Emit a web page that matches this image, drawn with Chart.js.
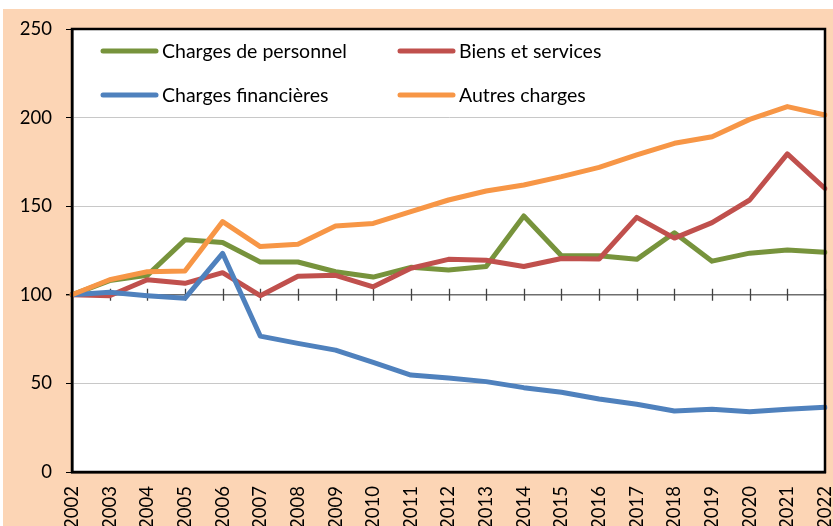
<!DOCTYPE html>
<html>
<head>
<meta charset="utf-8">
<script src="https://cdn.jsdelivr.net/npm/chart.js@4.4.1/dist/chart.umd.min.js"></script>
<style>
    html, body { margin: 0; padding: 0; background: #fff; overflow: hidden; }
    #wrap { position: absolute; left: 3px; top: 9px; width: 830px; height: 540px; background: #fcd5b5; }
</style>
</head>
<body>
<div id="wrap"><canvas id="chargesChart" width="830" height="540"></canvas></div>
<script>
// Données (indice base 100 en 2002)
const years = ['2002', '2003', '2004', '2005', '2006', '2007', '2008', '2009', '2010', '2011', '2012',
    '2013', '2014', '2015', '2016', '2017', '2018', '2019', '2020', '2021', '2022'];

const chargesPersonnel = [100, 108, 111, 131, 129.5, 118.5, 118.5, 113, 110, 115.5, 114, 116, 144.5,
    122, 122, 120, 135, 119, 123.5, 125.3, 124];
const biensServices = [100, 99.5, 108.5, 106.5, 112.5, 99.5, 110.5, 111, 104.5, 115, 120, 119.5, 116,
    120.5, 120.2, 143.7, 132, 140.7, 153.5, 179.5, 160];
const chargesFinancieres = [100, 101.4, 99.5, 98, 123.4, 76.7, 72.6, 68.8, 61.9, 54.7, 53, 51, 47.6,
    45, 41.2, 38.2, 34.4, 35.4, 34, 35.4, 36.5];
const autresCharges = [100, 108.5, 113, 113.4, 141.3, 127.2, 128.5, 138.8, 140.3, 146.9, 153.5, 158.6,
    162, 166.7, 171.9, 178.9, 185.5, 189.2, 199, 206.2, 201.5];

const yTicks = [0, 50, 100, 150, 200, 250];

const FONT = 'Lato';

function serie(label, data, color, order) {
    return {
        label: label,
        data: data,
        borderColor: color,
        backgroundColor: color,
        borderWidth: 5,
        pointRadius: 0,
        tension: 0,
        borderJoinStyle: 'round',
        borderCapStyle: 'round',
        order: order
    };
}

// fond blanc + cadre + axe à 100 + légende
const plotDecor = {
    id: 'plotDecor',
    beforeDraw(chart) {
        const a = chart.chartArea;
        const ctx = chart.ctx;
        ctx.save();
        ctx.fillStyle = '#fff';
        ctx.fillRect(a.left, a.top, a.right - a.left, a.bottom - a.top);
        ctx.restore();
    },
    beforeDatasetsDraw(chart) {
        const ctx = chart.ctx;
        const x = chart.scales.x;
        const y100 = chart.scales.y.getPixelForValue(100);
        ctx.save();
        ctx.strokeStyle = '#404040';
        ctx.lineWidth = 1.3;
        ctx.beginPath();
        for (let i = 1; i < years.length; i++) {
            const px = Math.round(x.getPixelForValue(i)) + 0.5;
            ctx.moveTo(px, y100 - 6);
            ctx.lineTo(px, y100 + 6);
        }
        ctx.stroke();
        ctx.restore();
    },
    afterDraw(chart) {
        const a = chart.chartArea;
        const ctx = chart.ctx;
        ctx.save();
        ctx.strokeStyle = '#000';
        ctx.lineWidth = 2.5;
        ctx.strokeRect(a.left, a.top, a.right - a.left, a.bottom - a.top);

        // légende sur 2 colonnes
        const cols = [31, 328];
        const rows = [22, 66];
        ctx.font = '19.5px ' + FONT;
        ctx.textBaseline = 'middle';
        ctx.fillStyle = '#000';
        chart.data.datasets.forEach((ds, i) => {
            const lx = a.left + cols[i % 2];
            const ly = a.top + rows[Math.floor(i / 2)];
            ctx.strokeStyle = ds.borderColor;
            ctx.lineWidth = 5;
            ctx.lineCap = 'round';
            ctx.beginPath();
            ctx.moveTo(lx, ly);
            ctx.lineTo(lx + 53, ly);
            ctx.stroke();
            ctx.fillText(ds.label, lx + 59, ly + 1);
        });
        ctx.restore();
    }
};

const chartConfig = {
    type: 'line',
    data: {
        labels: years,
        datasets: [
            serie('Charges de personnel', chargesPersonnel, '#77933c', 4),
            serie('Biens et services', biensServices, '#c0504d', 3),
            serie('Charges financières', chargesFinancieres, '#4f81bd', 2),
            serie('Autres charges', autresCharges, '#f79646', 1)
        ]
    },
    options: {
        responsive: false,
        devicePixelRatio: 1,
        animation: false,
        layout: {
            padding: { top: 20, right: 8, left: 0, bottom: 0 }
        },
        plugins: {
            legend: { display: false },
            tooltip: { enabled: false }
        },
        scales: {
            x: {
                type: 'category',
                offset: false,
                grid: { display: false, drawTicks: false },
                border: { display: true, color: '#000', width: 2.5 },
                ticks: {
                    autoSkip: false,
                    minRotation: 90,
                    maxRotation: 90,
                    padding: 14,
                    color: '#000',
                    font: { family: FONT, size: 18.5 }
                },
                afterFit(scale) {
                    scale.height = 77;
                    scale.paddingLeft = 0;
                    scale.paddingRight = 0;
                }
            },
            y: {
                min: 0,
                max: 250,
                afterBuildTicks(scale) {
                    scale.ticks = yTicks.map(v => ({ value: v }));
                },
                grid: {
                    color: ctx => ctx.tick && ctx.tick.value === 100 ? '#6e6e6e' : '#c8c8c8',
                    lineWidth: ctx => ctx.tick && ctx.tick.value === 100 ? 1.4 : 1,
                    tickColor: '#000',
                    tickLength: 6
                },
                border: { display: true, color: '#000', width: 2.5 },
                ticks: {
                    padding: 14,
                    color: '#000',
                    font: { family: FONT, size: 18.5 }
                },
                afterFit(scale) {
                    scale.width = 69;
                    scale.paddingTop = 0;
                    scale.paddingBottom = 0;
                }
            }
        }
    },
    plugins: [plotDecor]
};

let chargesChart;

document.addEventListener('DOMContentLoaded', function () {
    const ctx = document.getElementById('chargesChart').getContext('2d');
    chargesChart = new Chart(ctx, chartConfig);
});
</script>
</body>
</html>
